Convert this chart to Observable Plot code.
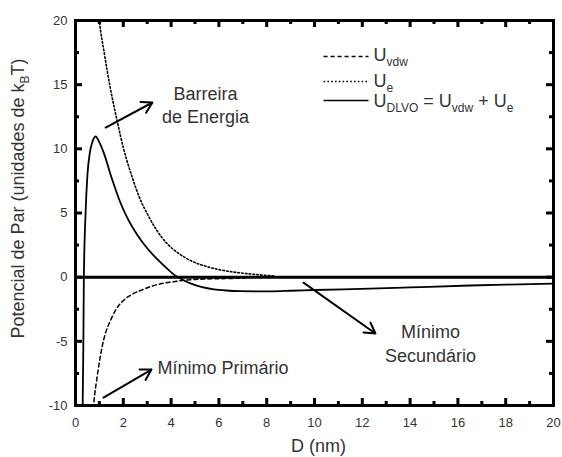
<!DOCTYPE html>
<html>
<head>
<meta charset="utf-8">
<script src="https://cdn.jsdelivr.net/npm/d3@7"></script>
<script src="https://cdn.jsdelivr.net/npm/@observablehq/plot@0.6"></script>
<style>
  html, body { margin: 0; padding: 0; background: white; }
</style>
</head>
<body>
<div id="chart"></div>
<script>
// ---- Data ----
const dlvoD = [0.3, 0.33, 0.35, 0.42, 0.5, 0.6, 0.7, 0.84, 1.0, 1.18, 1.5, 1.88, 2.2, 2.58, 3.0, 3.42, 3.8, 4.12, 4.5, 4.81, 5.3, 5.79, 6.3, 6.9, 7.5, 8.2, 9, 10, 12.3, 14, 16.5, 18, 20];
const dlvoU = [-10, -5, 0, 4.9, 8, 9.7, 10.5, 10.96, 10.5, 9.7, 7.8, 5.8, 4.5, 3.3, 2.25, 1.4, 0.72, 0.2, -0.22, -0.48, -0.78, -0.95, -1.04, -1.09, -1.1, -1.1, -1.06, -1.0, -0.9, -0.8, -0.65, -0.58, -0.5];

const eD = [0.95, 1.0, 1.2, 1.45, 1.74, 2.0, 2.37, 2.7, 3.07, 3.4, 3.84, 4.3, 4.81, 5.5, 6.2, 6.9, 7.6, 8.3];
const eU = [21, 20, 17.5, 14.8, 12.2, 10.1, 7.8, 6.1, 4.7, 3.65, 2.6, 1.87, 1.3, 0.82, 0.52, 0.33, 0.2, 0.1];

const vdwD = [0.72, 0.8, 0.88, 1.0, 1.11, 1.25, 1.46, 1.7, 2.02, 2.4, 2.72, 3.07, 3.56, 4.0, 4.53, 5.0, 5.5, 6.0, 6.5, 7.1];
const vdwU = [-10.8, -9.2, -8.1, -6.6, -5.45, -4.4, -3.4, -2.5, -1.8, -1.3, -1.04, -0.78, -0.52, -0.38, -0.25, -0.18, -0.14, -0.12, -0.1, -0.08];

const xMajor = [0, 2, 4, 6, 8, 10, 12, 14, 16, 18, 20];
const xMinor = [1, 3, 5, 7, 9, 11, 13, 15, 17, 19];
const yMajor = [-10, -5, 0, 5, 10, 15, 20];
const yMinor = [-7.5, -2.5, 2.5, 7.5, 12.5, 17.5];

const legendLabels = ["U_{vdw}", "U_{e}", "U_{DLVO} = U_{vdw} + U_{e}"];
const xLabel = "D (nm)";
const yLabel = "Potencial de Par (unidades de k_{B}T)";
const annotationTexts = ["Barreira\nde Energia", "Mínimo\nSecundário", "Mínimo Primário"];

// ---- Layout (annotation placement in data units) ----
const W = 562, H = 457, mT = 20, mB = 52, mL = 75, mR = 9;
const fw = W - mL - mR, fh = H - mT - mB;
const arrowsPos = [
  {x1: 1.26, y1: 11.66, x2: 3.22, y2: 13.61},
  {x1: 9.54, y1: -0.43, x2: 12.55, y2: -4.39},
  {x1: 1.17, y1: -9.38, x2: 3.18, y2: -7.2}
];
const textPos = [
  {x: 5.44, y: 13.5, anchor: "middle"},
  {x: 14.85, y: -5.1, anchor: "middle"},
  {x: 3.43, y: -7.12, anchor: "start"}
];
const legendLine = {x1: 10.38, x2: 12.26, ys: [17.19, 15.25, 13.77], tx: 12.47, tys: [17.3, 15.3, 13.68]};

const zip = (xs, ys) => xs.map((x, i) => ({x, y: ys[i]}));
const dlvo = zip(dlvoD, dlvoU);
const ue = zip(eD, eU);
const vdw = zip(vdwD, vdwU);
const annotations = annotationTexts.map((t, i) => ({text: t, ...textPos[i]}));
const arrows = arrowsPos;
const dashes = ["4,3", "1.6,2.2", null];
const legendRows = legendLabels.map((l, i) => ({label: l, y: legendLine.ys[i], ty: legendLine.tys[i], dash: dashes[i]}));

const textColor = "#333";

const marks = [
  Plot.ruleY([0], {stroke: "black", strokeWidth: 3}),
  Plot.line(vdw, {x: "x", y: "y", stroke: "black", strokeWidth: 1.5, strokeDasharray: "4,3", curve: "monotone-x", clip: true}),
  Plot.line(ue, {x: "x", y: "y", stroke: "black", strokeWidth: 1.6, strokeDasharray: "1.6,2.2", curve: "monotone-x", clip: true}),
  Plot.line(dlvo, {x: "x", y: "y", stroke: "black", strokeWidth: 1.8, curve: "monotone-x", clip: true}),
  // inward ticks on all four sides
  Plot.ruleX(xMajor, {x: d => d, insetTop: fh - 7, stroke: "black", strokeWidth: 3}),
  Plot.ruleX(xMajor, {x: d => d, insetBottom: fh - 7, stroke: "black", strokeWidth: 3}),
  Plot.ruleX(xMinor, {x: d => d, insetTop: fh - 4, stroke: "black", strokeWidth: 3}),
  Plot.ruleX(xMinor, {x: d => d, insetBottom: fh - 4, stroke: "black", strokeWidth: 3}),
  Plot.ruleY(yMajor, {y: d => d, insetRight: fw - 7, stroke: "black", strokeWidth: 3}),
  Plot.ruleY(yMajor, {y: d => d, insetLeft: fw - 7, stroke: "black", strokeWidth: 3}),
  Plot.ruleY(yMinor, {y: d => d, insetRight: fw - 4, stroke: "black", strokeWidth: 3}),
  Plot.ruleY(yMinor, {y: d => d, insetLeft: fw - 4, stroke: "black", strokeWidth: 3}),
  Plot.frame({stroke: "black", strokeWidth: 3}),
  Plot.axisX({ticks: xMajor, tickSize: 0, tickPadding: 12, fontSize: 13, tickFormat: d => String(d), label: null, fill: textColor}),
  Plot.axisY({ticks: yMajor, tickSize: 0, tickPadding: 8, fontSize: 13, tickFormat: d => String(d), label: null, fill: textColor}),
  Plot.text([yLabel], {frameAnchor: "left", textAnchor: "middle", lineAnchor: "middle", dx: -57, dy: -14.5, rotate: -90, fontSize: 18, fill: textColor}),
  Plot.text([xLabel], {frameAnchor: "bottom", textAnchor: "middle", lineAnchor: "middle", dx: 4, dy: 41, fontSize: 18, fill: textColor}),
  Plot.arrow(arrows, {x1: "x1", y1: "y1", x2: "x2", y2: "y2", stroke: "black", strokeWidth: 2, headLength: 9, bend: 0}),
  Plot.text(annotations.filter(d => d.anchor === "middle"), {x: "x", y: "y", text: "text", textAnchor: "middle", lineHeight: 1.28, fontSize: 18, fill: textColor}),
  Plot.text(annotations.filter(d => d.anchor === "start"), {x: "x", y: "y", text: "text", textAnchor: "start", fontSize: 18, fill: textColor}),
  ...legendRows.map(r => Plot.link([r], {x1: legendLine.x1, x2: legendLine.x2, y1: d => d.y, y2: d => d.y, stroke: "black", strokeWidth: 1.5, strokeDasharray: r.dash ?? undefined})),
  Plot.text(legendRows, {x: legendLine.tx, y: "ty", text: "label", textAnchor: "start", fontSize: 18, fill: textColor})
];

const chart = Plot.plot({
  width: W,
  height: H,
  marginTop: mT,
  marginBottom: mB,
  marginLeft: mL,
  marginRight: mR,
  x: {domain: [0, 20]},
  y: {domain: [-10, 20]},
  style: {fontFamily: "'Liberation Sans', Arial, Helvetica, sans-serif", background: "white", color: "black", overflow: "visible"},
  marks
});

// Convert "_{...}" markers into subscript tspans (text stays real text)
d3.select(chart).selectAll("text").each(function() {
  const el = this;
  const s = el.textContent;
  if (!s.includes("_{") || el.querySelector("tspan")) return;
  el.textContent = "";
  const parts = s.split(/(_\{[^}]*\})/);
  let shifted = false;
  for (const p of parts) {
    if (!p) continue;
    const t = document.createElementNS("http://www.w3.org/2000/svg", "tspan");
    if (p.startsWith("_{")) {
      t.textContent = p.slice(2, -1);
      t.setAttribute("font-size", "12");
      t.setAttribute("dy", "5");
      shifted = true;
    } else {
      t.textContent = p;
      if (shifted) { t.setAttribute("dy", "-5"); shifted = false; }
    }
    el.appendChild(t);
  }
});

document.getElementById("chart").appendChild(chart);
</script>
</body>
</html>
